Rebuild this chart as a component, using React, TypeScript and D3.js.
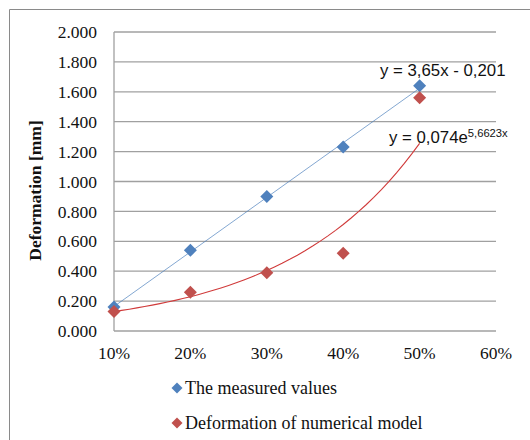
import React from "react";
import * as d3 from "d3";

const categories = [0.1, 0.2, 0.3, 0.4, 0.5];
const measured = [0.16, 0.54, 0.9, 1.23, 1.64];
const numerical = [0.13, 0.26, 0.39, 0.52, 1.56];
const yTicks = [0, 0.2, 0.4, 0.6, 0.8, 1.0, 1.2, 1.4, 1.6, 1.8, 2.0];
const xTicks = [0.1, 0.2, 0.3, 0.4, 0.5, 0.6];
const linA = 3.65;
const linB = -0.201;
const expA = 0.074;
const expB = 5.6623;
const seriesNames = ["The measured values", "Deformation of numerical model"];

const W = 530;
const H = 440;
const L = 114;
const R = 496;
const T = 32;
const B = 331;
const BLUE = "#4F81BD";
const RED = "#C0504D";
const SERIF = "Liberation Serif, DejaVu Serif, serif";
const SANS = "Liberation Sans, Arial, sans-serif";

const diamond = (cx: number, cy: number, r: number) =>
  `M${cx},${cy - r}L${cx + r},${cy}L${cx},${cy + r}L${cx - r},${cy}Z`;

export default function App() {
  const x = d3.scaleLinear().domain([0.1, 0.6]).range([L, R]);
  const y = d3.scaleLinear().domain([0, 2]).range([B, T]);
  const line = d3
    .line<[number, number]>()
    .x((d) => x(d[0]))
    .y((d) => y(d[1]));
  const linPts: [number, number][] = [0.1, 0.5].map((v) => [v, linA * v + linB]);
  const expPts: [number, number][] = d3
    .range(0, 41)
    .map((i) => 0.1 + (i * 0.4) / 40)
    .map((v) => [v, expA * Math.exp(expB * v)]);
  const fmtY = (v: number) => v.toFixed(3);
  const fmtX = (v: number) => `${Math.round(v * 100)}%`;
  const serif = { fontFamily: SERIF };
  const sans = { fontFamily: SANS };

  return (
    <div style={{ position: "fixed", left: 0, top: 0 }}>
      <svg width={W} height={H} style={{ display: "block", background: "#fff" }}>
        <line x1={9.5} y1={9.5} x2={W} y2={9.5} stroke="#8a8a8a" strokeWidth={1} />
        <line x1={9.5} y1={9.5} x2={9.5} y2={H} stroke="#8a8a8a" strokeWidth={1} />
        {yTicks.map((t) => (
          <g key={t}>
            <line x1={L} x2={R} y1={y(t)} y2={y(t)} stroke="#a0a0a0" strokeWidth={1.3} />
            <text
              x={97}
              y={y(t)}
              dy="0.35em"
              textAnchor="end"
              style={serif}
              fontSize={17.5}
              fill="#111"
            >
              {fmtY(t)}
            </text>
          </g>
        ))}
        <line x1={L} x2={L} y1={T} y2={B} stroke="#a0a0a0" strokeWidth={1.3} />
        {xTicks.map((t) => (
          <text
            key={t}
            x={x(t)}
            y={359}
            textAnchor="middle"
            style={serif}
            fontSize={17.5}
            fill="#111"
          >
            {fmtX(t)}
          </text>
        ))}
        <text
          transform={`translate(41,${(T + B) / 2 + 9}) rotate(-90)`}
          textAnchor="middle"
          style={serif}
          fontSize={17.5}
          fontWeight="bold"
          fill="#111"
        >
          Deformation [mm]
        </text>
        <path d={line(linPts) || ""} fill="none" stroke={BLUE} strokeOpacity={0.7} strokeWidth={1} />
        <path d={line(expPts) || ""} fill="none" stroke="#d03a3a" strokeWidth={1.1} />
        {categories.map((c, i) => (
          <path key={"m" + i} d={diamond(x(c), y(measured[i]), 6.5)} fill={BLUE} />
        ))}
        {categories.map((c, i) => (
          <path key={"n" + i} d={diamond(x(c), y(numerical[i]), 6.5)} fill={RED} />
        ))}
        <text x={380} y={76} style={sans} fontSize={16.8} fill="#111">
          y = 3,65x - 0,201
        </text>
        <text x={389} y={143} style={sans} fontSize={16.8} fill="#111">
          y = 0,074e
          <tspan fontSize={11.2} dy={-6}>
            5,6623x
          </tspan>
        </text>
        {seriesNames.map((s, i) => (
          <g key={s}>
            <path d={diamond(177, 388 + i * 35, 5.5)} fill={i === 0 ? BLUE : RED} />
            <text
              x={185}
              y={388 + i * 35}
              dy="0.35em"
              style={serif}
              fontSize={18}
              fill="#111"
            >
              {s}
            </text>
          </g>
        ))}
      </svg>
    </div>
  );
}
